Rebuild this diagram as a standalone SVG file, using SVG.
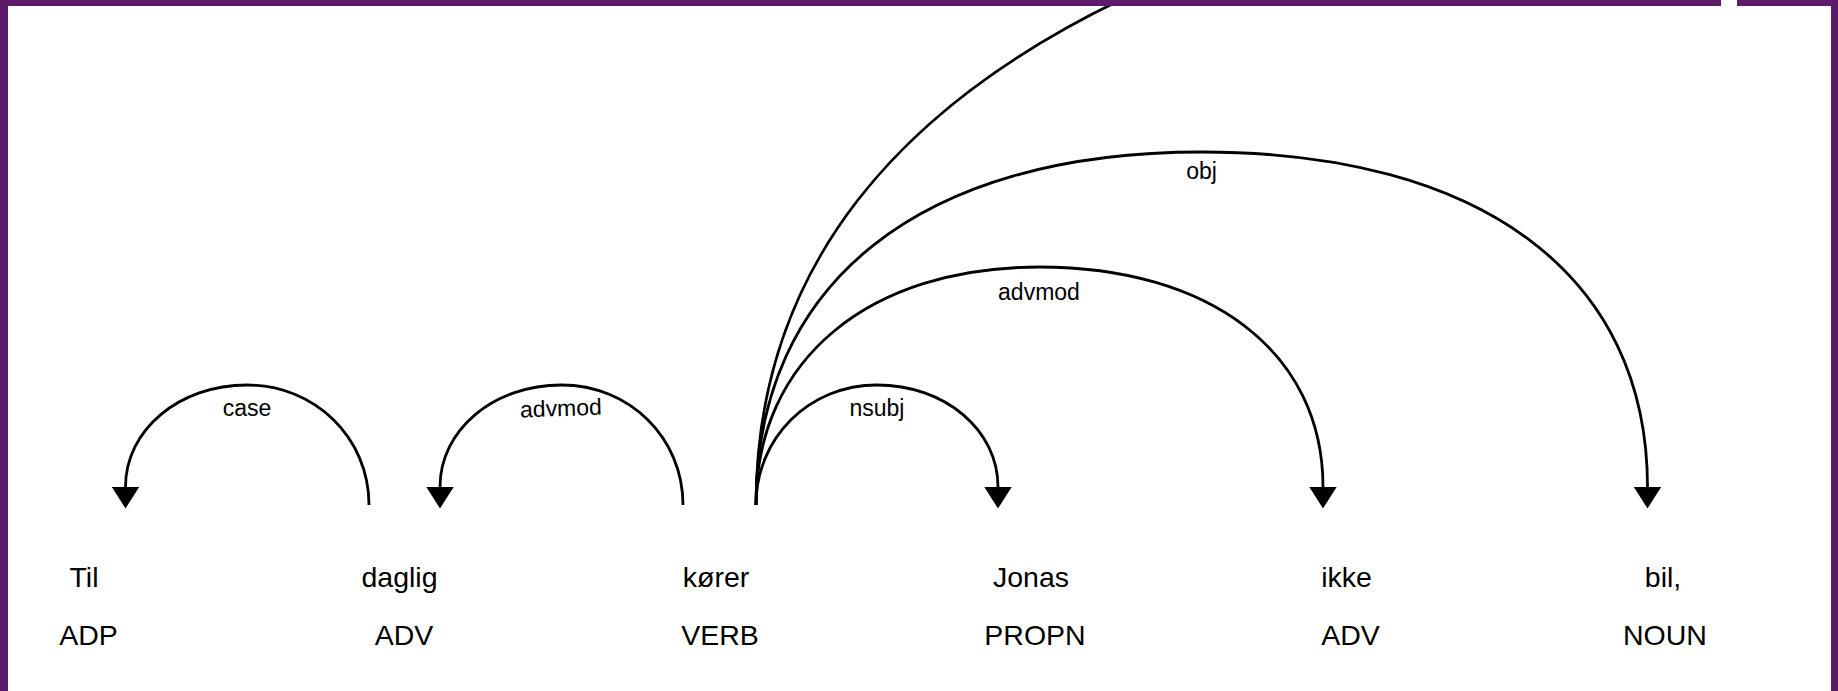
<svg xmlns="http://www.w3.org/2000/svg" width="1838" height="691" viewBox="0 0 1838 691">
  <style>
    .word { font-family: "Liberation Sans", Arial, sans-serif; font-size: 28.5px; fill: #000; text-anchor: middle; }
    .lbl { font-family: "Liberation Sans", Arial, sans-serif; font-size: 23px; fill: #000; text-anchor: middle; }
    .arc { fill: none; stroke: #000; stroke-width: 2.8; }
    .frame { fill: #5b1a6a; }
  </style>
  <defs>
    <marker id="arrow" markerUnits="userSpaceOnUse" markerWidth="22" markerHeight="28" viewBox="0 0 22 28" refX="0.5" refY="14" orient="auto">
      <path d="M0,0 L22,14 L0,28 Z" fill="#000"/>
    </marker>
  </defs>
  <rect x="0" y="0" width="1838" height="691" fill="#fff"/>

  <g id="connectors">
    <g id="arc-case">
      <path class="arc" marker-end="url(#arrow)" d="M369,505 C369,437.8 315,385 247,385 C179,385 125.5,429.9 125.5,487"/>
      <text class="lbl" x="247" y="416">case</text>
    </g>
    <g id="arc-advmod-1">
      <path class="arc" marker-end="url(#arrow)" d="M683,505 C683,437.8 629.5,385 561.5,385 C493.5,385 440,429.9 440,487"/>
      <text class="lbl" x="561" y="416" transform="rotate(-2 561 410)">advmod</text>
    </g>
    <g id="arc-nsubj">
      <path class="arc" marker-end="url(#arrow)" d="M756,505 C756,437.8 809,385 877,385 C945,385 998,429.9 998,487"/>
      <text class="lbl" x="877" y="416">nsubj</text>
    </g>
    <g id="arc-advmod-2">
      <path class="arc" marker-end="url(#arrow)" d="M756,505 C756,357.6 870.9,267 1039.5,267 C1208.1,267 1323,350.6 1323,487"/>
      <text class="lbl" x="1039" y="300">advmod</text>
    </g>
    <g id="arc-obj">
      <path class="arc" marker-end="url(#arrow)" d="M756,505 C756,282.6 920.9,152 1201.75,152 C1482.6,152 1647.5,275.9 1647.5,487"/>
      <text class="lbl" x="1201.5" y="179">obj</text>
    </g>
    <g id="arc-offscreen">
      <path class="arc" d="M756,505 C756,43 1300,-195 2356,-195"/>
    </g>
  </g>

  <g id="node-til">
    <text class="word" x="84" y="587">Til</text>
    <text class="word" x="88.5" y="645">ADP</text>
  </g>
  <g id="node-daglig">
    <text class="word" x="399.5" y="587">daglig</text>
    <text class="word" x="404" y="645">ADV</text>
  </g>
  <g id="node-korer">
    <text class="word" x="716" y="587">kører</text>
    <text class="word" x="720" y="645">VERB</text>
  </g>
  <g id="node-jonas">
    <text class="word" x="1031" y="587">Jonas</text>
    <text class="word" x="1035" y="645">PROPN</text>
  </g>
  <g id="node-ikke">
    <text class="word" x="1346.5" y="587">ikke</text>
    <text class="word" x="1350.5" y="645">ADV</text>
  </g>
  <g id="node-bil">
    <text class="word" x="1663" y="587">bil,</text>
    <text class="word" x="1665" y="645">NOUN</text>
  </g>

  <g id="frame">
    <rect class="frame" x="0" y="0" width="8" height="691"/>
    <rect class="frame" x="0" y="0" width="1721" height="6"/>
    <rect class="frame" x="1737" y="0" width="101" height="6"/>
    <rect class="frame" x="1831" y="0" width="7" height="691"/>
  </g>
</svg>
